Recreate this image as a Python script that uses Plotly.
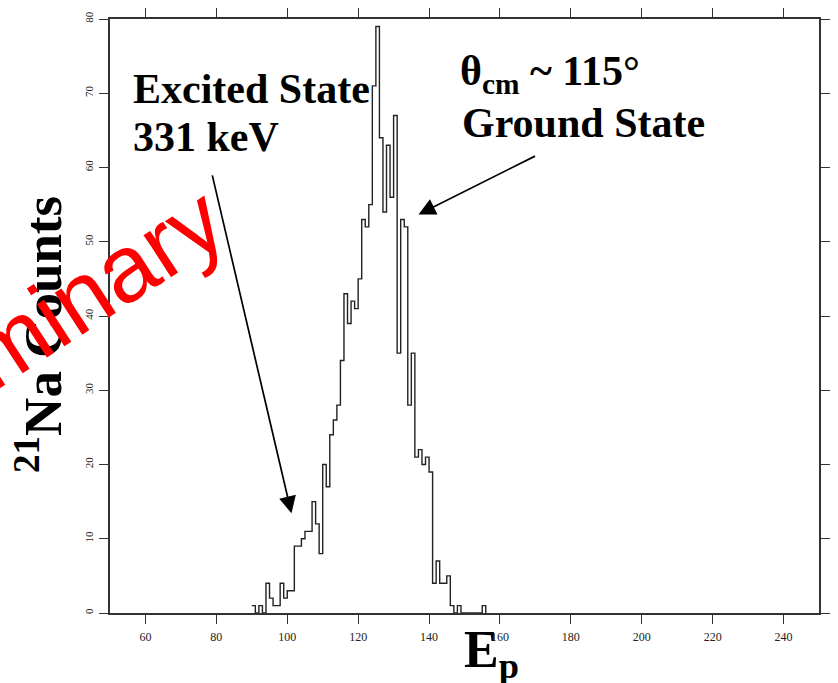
import plotly.graph_objects as go

# ---- data (bin left edge -> counts, bin width 1) ----
bin_edges_left = list(range(90, 156))
counts = [1, 0, 1, 0, 4, 2, 1, 1, 4, 2,
          3, 3, 9, 9, 10, 11, 11, 15, 12, 8,
          20, 17, 24, 26, 28, 34, 43, 39, 42, 41,
          45, 53, 52, 55, 71, 79, 64, 54, 63, 56,
          67, 35, 53, 52, 28, 35, 21, 22, 20, 21,
          19, 4, 7, 4, 4, 5, 1, 0, 1, 0,
          0, 0, 0, 0, 0, 1]
x_tick_vals = [60, 80, 100, 120, 140, 160, 180, 200, 220, 240]
y_tick_vals = [0, 10, 20, 30, 40, 50, 60, 70, 80]

# step outline x/y (edges + closing edge)
xs = bin_edges_left + [bin_edges_left[-1] + 1]
ys = counts + [0]

W, H = 838, 683
L, R, T, B = 110, 11, 8, 70
PW, PH = W - L - R, H - T - B


def px(xp):
    return (xp - L) / PW


def py(yp):
    return (H - B - yp) / PH


fig = go.Figure()
fig.add_trace(go.Scatter(
    x=xs, y=ys, mode="lines", line=dict(shape="hv", color="#222222", width=1.4),
    hoverinfo="skip", showlegend=False))

serif = "Liberation Serif"
ann = []
# Y-axis title
ann.append(dict(text="<b><sup>21</sup>Na Counts</b>", textangle=-90, x=px(38), y=py(329),
                xref="paper", yref="paper", xanchor="center", yanchor="middle",
                showarrow=False, font=dict(family=serif, size=53, color="black")))
# X-axis title
ann.append(dict(text="<b>E<sub>p</sub></b>", x=px(496), y=py(654), xref="paper", yref="paper",
                xanchor="center", yanchor="middle", showarrow=False,
                font=dict(family=serif, size=52, color="black")))
# Excited state text
ann.append(dict(text="<b>Excited State</b>", x=px(131), y=py(79), xref="paper", yref="paper",
                xanchor="left", yanchor="middle", showarrow=False,
                font=dict(family=serif, size=42, color="black")))
ann.append(dict(text="<b>331 keV</b>", x=px(131), y=py(128), xref="paper", yref="paper",
                xanchor="left", yanchor="middle", showarrow=False,
                font=dict(family=serif, size=42, color="black")))
# Ground state text
ann.append(dict(text="<b>θ<sub>cm</sub> ~ 115°</b>", x=px(462), y=py(64), xref="paper", yref="paper",
                xanchor="left", yanchor="middle", showarrow=False,
                font=dict(family=serif, size=42, color="black")))
ann.append(dict(text="<b>Ground State</b>", x=px(464), y=py(114), xref="paper", yref="paper",
                xanchor="left", yanchor="middle", showarrow=False,
                font=dict(family=serif, size=42, color="black")))
# arrows
ann.append(dict(text="", x=px(293.5), y=py(511.5), xref="paper", yref="paper",
                ax=-79.5, ay=-339.5, showarrow=True, arrowhead=2, arrowsize=2.0,
                arrowwidth=1.7, arrowcolor="black"))
ann.append(dict(text="", x=px(422), y=py(207), xref="paper", yref="paper",
                ax=118, ay=-59, showarrow=True, arrowhead=2, arrowsize=2.0,
                arrowwidth=1.7, arrowcolor="black"))
# Preliminary watermark
ann.append(dict(text="Preliminary", textangle=-33, x=px(14), y=py(334), xref="paper", yref="paper",
                xanchor="center", yanchor="middle", showarrow=False,
                font=dict(family="Liberation Sans", size=95, color="#ff0000")))

axis_common = dict(showline=True, linecolor="#333333", linewidth=1.6, mirror="ticks",
                   ticks="outside", tickcolor="#333333", tickwidth=1.2, showgrid=False,
                   zeroline=False)

fig.update_layout(
    width=W, height=H,
    margin=dict(l=L, r=R, t=T, b=B),
    paper_bgcolor="white", plot_bgcolor="white",
    xaxis=dict(range=[50, 250], tickvals=x_tick_vals, ticklen=9, ticklabelstandoff=3,
               tickfont=dict(family=serif, size=12, color="#222222"), **axis_common),
    yaxis=dict(range=[0, 80], tickvals=y_tick_vals, ticklen=9, tickangle=-90,
               ticklabelstandoff=2,
               tickfont=dict(family=serif, size=11, color="#222222"), **axis_common),
    annotations=ann,
)

fig.write_html("out.html")
